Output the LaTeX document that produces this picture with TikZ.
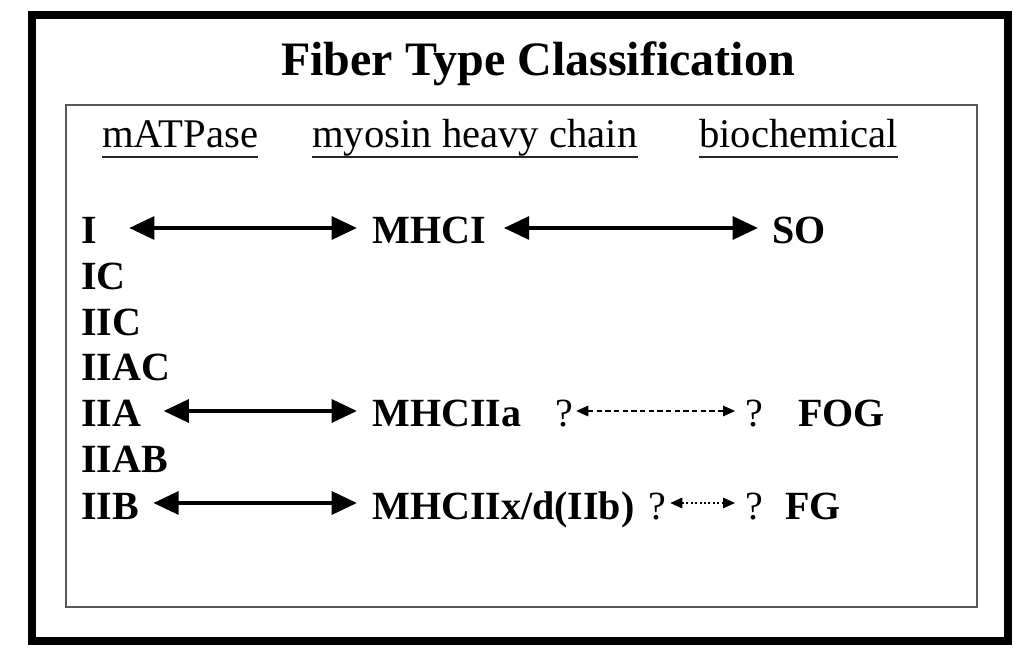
\documentclass[tikz,border=0pt]{standalone}
\usepackage{fontspec}
\setmainfont{Liberation Serif}
\usetikzlibrary{arrows.meta,calc}
\begin{document}
\begin{tikzpicture}[x=0.75pt,y=-0.75pt,
  lbl/.style={anchor=base west, inner sep=0pt, font=\fontsize{30}{30}\selectfont\bfseries},
  hdr/.style={anchor=base west, inner sep=0pt, font=\fontsize{30.5}{30.5}\selectfont},
  qmark/.style={anchor=base west, inner sep=0pt, font=\fontsize{30}{30}\selectfont},
  uline/.style={line width=1.3pt, black!85},
  bigarrow/.style={line width=3.2pt, {Triangle[length=19pt,width=17pt]}-{Triangle[length=19pt,width=17pt]}},
  dasharrow/.style={line width=0.8pt, dash pattern=on 4pt off 2.5pt, {Triangle[length=9pt,width=8pt]}-{Triangle[length=9pt,width=8pt]}},
  dotarrow/.style={line width=0.8pt, dash pattern=on 1.5pt off 1.8pt, {Triangle[length=9pt,width=8pt]}-{Triangle[length=9pt,width=8pt]}}
]
\useasboundingbox (0,0) rectangle (1024,655);
\fill[white] (0,0) rectangle (1024,655);
\draw[line width=6pt] (32,15) rectangle (1008,641);
\draw[line width=1.1pt, black!65] (66,105) rectangle (977,607);

\node[anchor=base, inner sep=0pt, font=\fontsize{36}{36}\selectfont\bfseries] (title) at (538,76) {Fiber Type Classification};

\node[hdr] (h1) at (102,148) {mATPase};
\node[hdr] (h2) at (312,148) {myosin heavy chain};
\node[hdr] (h3) at (699,148) {biochemical};
\draw[uline] ($(h1.base west)+(0,9)$) -- ($(h1.base east)+(0,9)$);
\draw[uline] ($(h2.base west)+(0,9)$) -- ($(h2.base east)+(0,9)$);
\draw[uline] ($(h3.base west)+(0,9)$) -- ($(h3.base east)+(0,9)$);

\node[lbl] (I) at (81,244) {I};
\node[lbl] (IC) at (81,290) {IC};
\node[lbl] (IIC) at (81,336) {IIC};
\node[lbl] (IIAC) at (81,381) {IIAC};
\node[lbl] (IIA) at (81,427) {IIA};
\node[lbl] (IIAB) at (81,473) {IIAB};
\node[lbl] (IIB) at (81,519) {IIB};

\node[lbl] (MHCI) at (372,244) {MHCI};
\node[lbl] (MHCIIa) at (372,427) {MHCIIa};
\node[lbl] (MHCIIx) at (372,519) {MHCIIx/d(IIb)};

\node[lbl] (SO) at (772,244) {SO};
\node[qmark] (q1) at (555,427) {?};
\node[qmark] (q2) at (745,427) {?};
\node[lbl] (FOG) at (798,427) {FOG};
\node[qmark] (q3) at (648,519) {?};
\node[qmark] (q4) at (745,519) {?};
\node[lbl] (FG) at (785,519) {FG};

\draw[bigarrow] ($(I.base east)+(32,-16)$) -- ($(MHCI.base west)+(-15,-16)$);
\draw[bigarrow] ($(MHCI.base east)+(18,-16)$) -- ($(SO.base west)+(-14,-16)$);
\draw[bigarrow] ($(IIA.base east)+(22,-16)$) -- ($(MHCIIa.base west)+(-15,-16)$);
\draw[bigarrow] ($(IIB.base east)+(14,-16)$) -- ($(MHCIIx.base west)+(-15,-16)$);
\draw[dasharrow] ($(q1.base east)+(3,-16)$) -- ($(q2.base west)+(-10,-16)$);
\draw[dotarrow] ($(q3.base east)+(4,-16)$) -- ($(q4.base west)+(-10,-16)$);
\end{tikzpicture}
\end{document}
